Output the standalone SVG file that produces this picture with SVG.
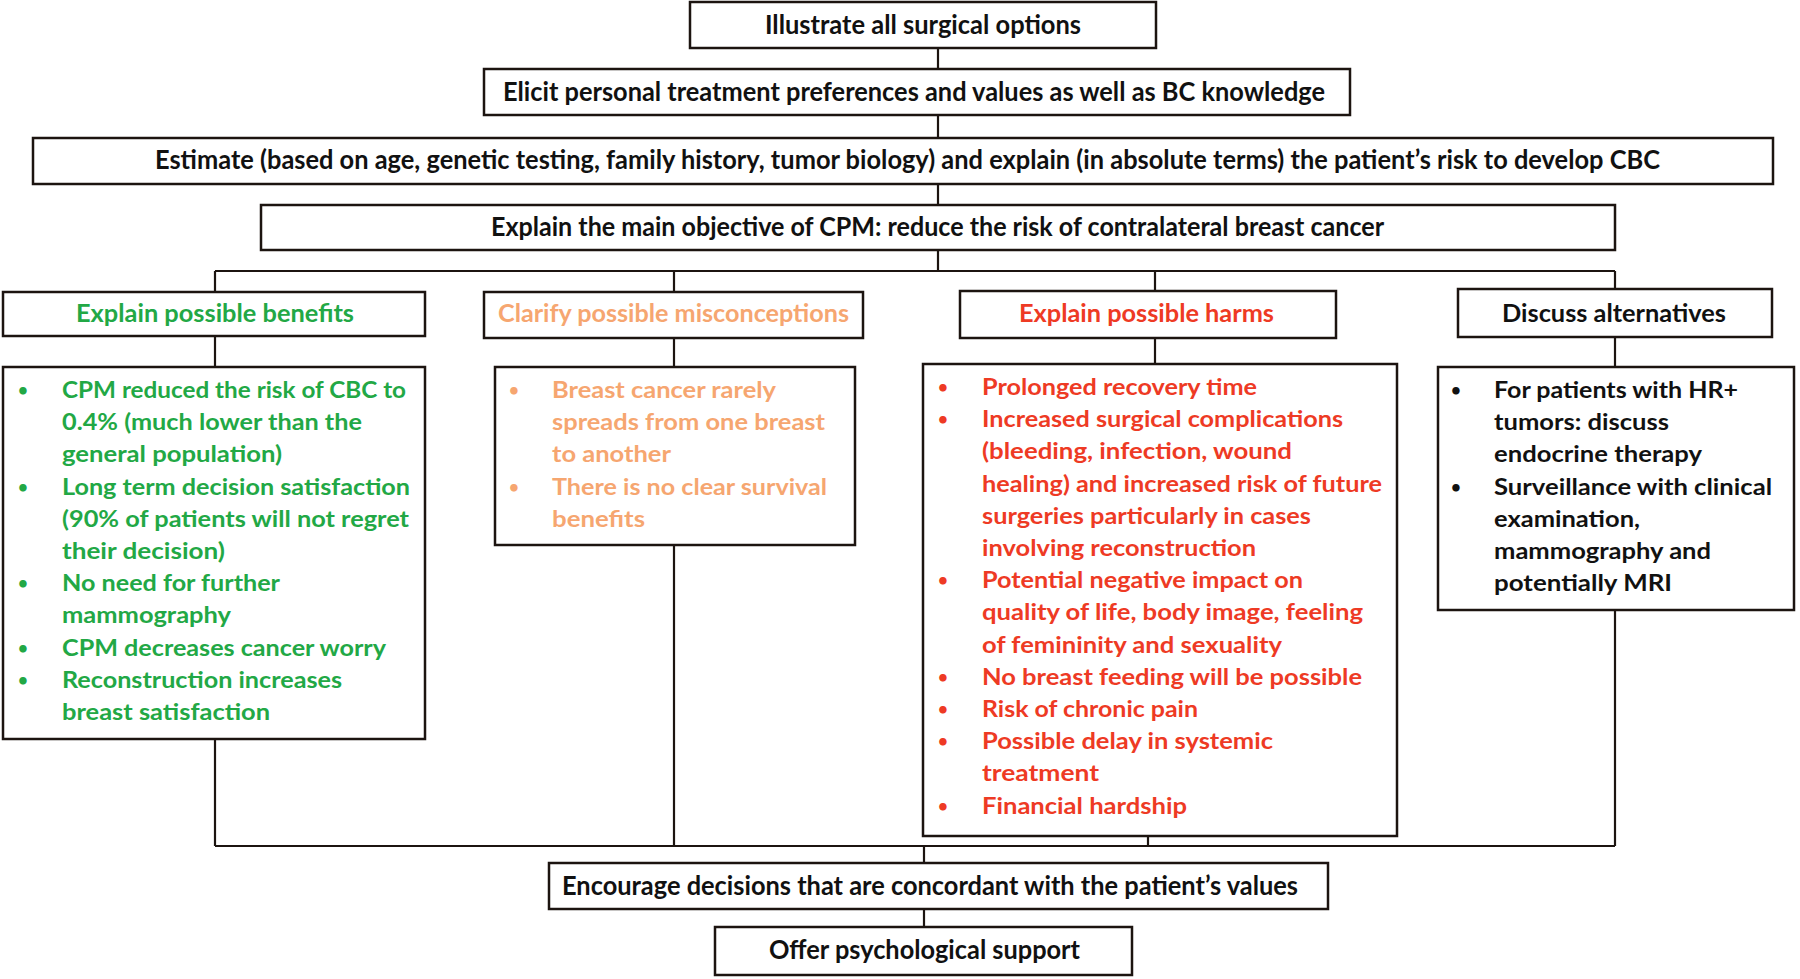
<svg xmlns="http://www.w3.org/2000/svg" width="1800" height="979" viewBox="0 0 1800 979">
<style>
text{font-family:Lato,"Liberation Sans",sans-serif;font-weight:bold}
.box{fill:#fff;stroke:#1c1410;stroke-width:2.5}
.con{fill:none;stroke:#1c1410;stroke-width:2.2}
.t{font-size:26px;fill:#111}
.h{font-size:25px}
.b{font-size:23px}
.g{fill:#22a845}
.o{fill:#f6a670}
.r{fill:#ee3a24}
.k{fill:#111}
.dot{font-size:17px;text-anchor:middle}
</style>
<rect width="1800" height="979" fill="#fff"/>
<g id="connectors">
<path class="con" d="M938 48V69M938 115V138M938 184V205M938 250V271M215 271H1615M215 271V292M674 271V292M1155 271V291M1615 271V289M215 336V367M674 338V367M1155 338V364M1615 337V367M215 739V846M674 545V846M1148 836V846M1615 610V846M215 846H1615M924 846V863M924 909V927"/>
</g>
<g id="n1"><rect class="box" x="690" y="2" width="466" height="46"/><text class="t" x="765" y="34" textLength="316" lengthAdjust="spacingAndGlyphs">Illustrate all surgical options</text></g>
<g id="n2"><rect class="box" x="484" y="69" width="866" height="46"/><text class="t" x="503" y="101" textLength="822" lengthAdjust="spacingAndGlyphs">Elicit personal treatment preferences and values as well as BC knowledge</text></g>
<g id="n3"><rect class="box" x="33" y="138" width="1740" height="46"/><text class="t" x="155" y="169" textLength="1505" lengthAdjust="spacingAndGlyphs">Estimate (based on age, genetic testing, family history, tumor biology) and explain (in absolute terms) the patient’s risk to develop CBC</text></g>
<g id="n4"><rect class="box" x="261" y="205" width="1354" height="45"/><text class="t" x="491" y="236" textLength="893" lengthAdjust="spacingAndGlyphs">Explain the main objective of CPM: reduce the risk of contralateral breast cancer</text></g>

<g id="h1"><rect class="box" x="3" y="292" width="422" height="44"/><text class="h g" x="76" y="322" textLength="278" lengthAdjust="spacingAndGlyphs">Explain possible benefits</text></g>
<g id="h2"><rect class="box" x="484" y="292" width="379" height="46"/><text class="h o" x="498" y="322" textLength="351" lengthAdjust="spacingAndGlyphs">Clarify possible misconceptions</text></g>
<g id="h3"><rect class="box" x="960" y="291" width="376" height="47"/><text class="h r" x="1019" y="322" textLength="255" lengthAdjust="spacingAndGlyphs">Explain possible harms</text></g>
<g id="h4"><rect class="box" x="1458" y="289" width="314" height="48"/><text class="h k" x="1502" y="322" textLength="224" lengthAdjust="spacingAndGlyphs">Discuss alternatives</text></g>

<g id="d1"><rect class="box" x="3" y="367" width="422" height="372"/>
<g class="g">
<text class="dot" x="23" y="396">•</text>
<text class="b" x="62" y="398" textLength="344" lengthAdjust="spacingAndGlyphs">CPM reduced the risk of CBC to</text>
<text class="b" x="62" y="430" textLength="300" lengthAdjust="spacingAndGlyphs">0.4% (much lower than the</text>
<text class="b" x="62" y="462" textLength="220" lengthAdjust="spacingAndGlyphs">general population)</text>
<text class="dot" x="23" y="493">•</text>
<text class="b" x="62" y="495" textLength="348" lengthAdjust="spacingAndGlyphs">Long term decision satisfaction</text>
<text class="b" x="62" y="527" textLength="347" lengthAdjust="spacingAndGlyphs">(90% of patients will not regret</text>
<text class="b" x="62" y="559" textLength="163" lengthAdjust="spacingAndGlyphs">their decision)</text>
<text class="dot" x="23" y="589">•</text>
<text class="b" x="62" y="591" textLength="218" lengthAdjust="spacingAndGlyphs">No need for further</text>
<text class="b" x="62" y="623" textLength="169" lengthAdjust="spacingAndGlyphs">mammography</text>
<text class="dot" x="23" y="654">•</text>
<text class="b" x="62" y="656" textLength="324" lengthAdjust="spacingAndGlyphs">CPM decreases cancer worry</text>
<text class="dot" x="23" y="686">•</text>
<text class="b" x="62" y="688" textLength="280" lengthAdjust="spacingAndGlyphs">Reconstruction increases</text>
<text class="b" x="62" y="720" textLength="208" lengthAdjust="spacingAndGlyphs">breast satisfaction</text>
</g></g>

<g id="d2"><rect class="box" x="495" y="367" width="360" height="178"/>
<g class="o">
<text class="dot" x="514" y="396">•</text>
<text class="b" x="552" y="398" textLength="224" lengthAdjust="spacingAndGlyphs">Breast cancer rarely</text>
<text class="b" x="552" y="430" textLength="273" lengthAdjust="spacingAndGlyphs">spreads from one breast</text>
<text class="b" x="552" y="462" textLength="119" lengthAdjust="spacingAndGlyphs">to another</text>
<text class="dot" x="514" y="493">•</text>
<text class="b" x="552" y="495" textLength="275" lengthAdjust="spacingAndGlyphs">There is no clear survival</text>
<text class="b" x="552" y="527" textLength="93" lengthAdjust="spacingAndGlyphs">benefits</text>
</g></g>

<g id="d3"><rect class="box" x="923" y="364" width="474" height="472"/>
<g class="r">
<text class="dot" x="943" y="393">•</text>
<text class="b" x="982" y="395" textLength="275" lengthAdjust="spacingAndGlyphs">Prolonged recovery time</text>
<text class="dot" x="943" y="425">•</text>
<text class="b" x="982" y="427" textLength="361" lengthAdjust="spacingAndGlyphs">Increased surgical complications</text>
<text class="b" x="982" y="459" textLength="310" lengthAdjust="spacingAndGlyphs">(bleeding, infection, wound</text>
<text class="b" x="982" y="492" textLength="400" lengthAdjust="spacingAndGlyphs">healing) and increased risk of future</text>
<text class="b" x="982" y="524" textLength="329" lengthAdjust="spacingAndGlyphs">surgeries particularly in cases</text>
<text class="b" x="982" y="556" textLength="274" lengthAdjust="spacingAndGlyphs">involving reconstruction</text>
<text class="dot" x="943" y="586">•</text>
<text class="b" x="982" y="588" textLength="321" lengthAdjust="spacingAndGlyphs">Potential negative impact on</text>
<text class="b" x="982" y="620" textLength="381" lengthAdjust="spacingAndGlyphs">quality of life, body image, feeling</text>
<text class="b" x="982" y="653" textLength="300" lengthAdjust="spacingAndGlyphs">of femininity and sexuality</text>
<text class="dot" x="943" y="683">•</text>
<text class="b" x="982" y="685" textLength="380" lengthAdjust="spacingAndGlyphs">No breast feeding will be possible</text>
<text class="dot" x="943" y="715">•</text>
<text class="b" x="982" y="717" textLength="216" lengthAdjust="spacingAndGlyphs">Risk of chronic pain</text>
<text class="dot" x="943" y="747">•</text>
<text class="b" x="982" y="749" textLength="291" lengthAdjust="spacingAndGlyphs">Possible delay in systemic</text>
<text class="b" x="982" y="781" textLength="117" lengthAdjust="spacingAndGlyphs">treatment</text>
<text class="dot" x="943" y="812">•</text>
<text class="b" x="982" y="814" textLength="205" lengthAdjust="spacingAndGlyphs">Financial hardship</text>
</g></g>

<g id="d4"><rect class="box" x="1438" y="367" width="356" height="243"/>
<g class="k">
<text class="dot" x="1456" y="396">•</text>
<text class="b" x="1494" y="398" textLength="244" lengthAdjust="spacingAndGlyphs">For patients with HR+</text>
<text class="b" x="1494" y="430" textLength="175" lengthAdjust="spacingAndGlyphs">tumors: discuss</text>
<text class="b" x="1494" y="462" textLength="208" lengthAdjust="spacingAndGlyphs">endocrine therapy</text>
<text class="dot" x="1456" y="493">•</text>
<text class="b" x="1494" y="495" textLength="278" lengthAdjust="spacingAndGlyphs">Surveillance with clinical</text>
<text class="b" x="1494" y="527" textLength="146" lengthAdjust="spacingAndGlyphs">examination,</text>
<text class="b" x="1494" y="559" textLength="217" lengthAdjust="spacingAndGlyphs">mammography and</text>
<text class="b" x="1494" y="591" textLength="178" lengthAdjust="spacingAndGlyphs">potentially MRI</text>
</g></g>

<g id="n5"><rect class="box" x="549" y="863" width="779" height="46"/><text class="t" x="562" y="895" textLength="736" lengthAdjust="spacingAndGlyphs">Encourage decisions that are concordant with the patient’s values</text></g>
<g id="n6"><rect class="box" x="715" y="927" width="417" height="48"/><text class="t" x="769" y="959" textLength="311" lengthAdjust="spacingAndGlyphs">Offer psychological support</text></g>
</svg>
